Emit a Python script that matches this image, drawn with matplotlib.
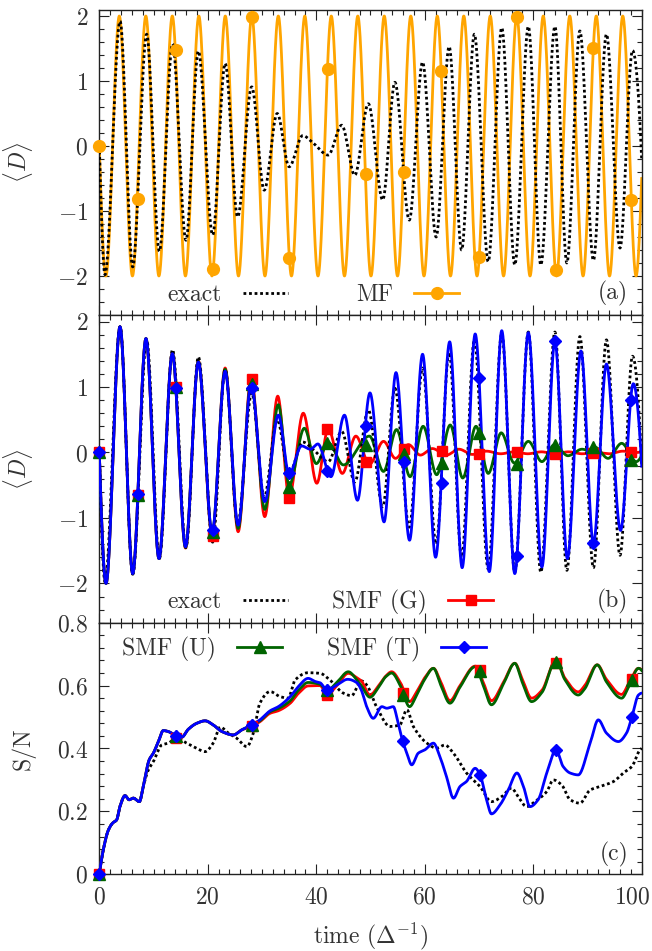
import numpy as np
import matplotlib
matplotlib.use("Agg")
import matplotlib.pyplot as plt
import matplotlib.transforms as mtransforms
from matplotlib.ticker import MultipleLocator, FuncFormatter
from matplotlib.lines import Line2D

plt.rcParams.update({
    "font.family": "cmr10",
    "mathtext.fontset": "cm",
    "axes.formatter.use_mathtext": True,
    "font.size": 17,
    "text.color": "#333333",
})

# ---------------- data ----------------
# panel (a): mean-field curve, extrema (time, value)
MF_t = [0, 1.22, 3.69, 6.11, 8.58, 10.99, 13.46, 15.88, 18.35, 20.77, 23.23, 25.66,
        28.12, 30.54, 33.00, 35.43, 37.89, 40.32, 42.77, 45.20, 47.66, 50.09, 52.54,
        54.98, 57.43, 59.86, 62.31, 64.75, 67.20, 69.64, 72.08, 74.53, 76.97, 79.41,
        81.85, 84.30, 86.74, 89.19, 91.62, 94.07, 96.51, 98.96, 100]
MF_v = [0, -2, 2, -2, 2, -2, 2, -2, 2, -2, 2, -2, 2, -2, 2, -2, 2, -2, 2, -2, 2, -2,
        2, -2, 2, -2, 2, -2, 2, -2, 2, -2, 2, -2, 2, -2, 2, -2, 2, -2, 2, -2, -0.5]
MF_mk_t = [0, 7.19, 14.14, 21.0, 28.15, 35.03, 42.2, 49.1, 56.2, 63.05, 70.0, 77.07, 84.2, 91.07, 98.0]
MF_mk_v = [0, -0.82, 1.48, -1.89, 1.99, -1.72, 1.18, -0.43, -0.40, 1.16, -1.71, 1.98, -1.91, 1.51, -0.83]

# exact dynamics <D>, extrema (panels a and b)
EX_t = [0, 1.05, 3.83, 6.16, 8.73, 11.07, 13.5, 15.98, 18.26, 20.9, 23.2, 25.5, 28.1,
        30.4, 32.8, 35.0, 37.5, 39.5, 42.2, 44.7, 47.1, 49.6, 52.25, 54.5, 57.15, 59.6,
        62.1, 64.5, 66.8, 69.15, 71.7, 74.2, 76.6, 79.1, 81.4, 84.0, 86.2, 88.6, 91.1,
        93.5, 96.0, 98.3, 100]
EX_v = [0, -1.98, 1.92, -1.86, 1.72, -1.62, 1.57, -1.45, 1.46, -1.37, 1.27, -1.09, 0.91,
        -0.68, 0.50, -0.32, 0.16, 0.04, -0.14, 0.32, -0.45, 0.65, -0.83, 0.98, -1.14, 1.29,
        -1.40, 1.53, -1.60, 1.72, -1.78, 1.82, -1.83, 1.84, -1.83, 1.84, -1.80, 1.77, -1.76,
        1.72, -1.57, 1.47, -0.22]

# panel (b): SMF curves, extrema
T_t = [0, 1.24, 3.82, 6.16, 8.6, 11.0, 13.47, 15.9, 18.26, 20.8, 23.2, 25.6, 28.0, 30.5,
       33.0, 35.0, 37.3, 38.9, 40.3, 42.7, 45.2, 47.6, 49.9, 52.5, 54.7, 57.2, 59.6, 62.0,
       64.6, 66.9, 69.3, 71.9, 74.2, 76.6, 79.1, 81.6, 84.0, 86.3, 88.8, 91.1, 93.5, 96.1,
       98.45, 100]
T_v = [0, -2.0, 1.92, -1.85, 1.74, -1.62, 1.51, -1.44, 1.38, -1.22, 1.24, -1.11, 1.04, -0.75,
       0.57, -0.33, 0.10, 0.05, 0.13, -0.37, 0.57, -0.73, 0.91, -1.06, 1.22, -1.34, 1.50, -1.60,
       1.69, -1.76, 1.81, -1.82, 1.86, -1.85, 1.83, -1.75, 1.70, -1.62, 1.55, -1.39, 1.35, -1.19,
       1.05, -0.21]
G_t = [0, 1.24, 3.82, 6.16, 8.6, 11.0, 13.47, 15.9, 18.26, 20.8, 23.2, 25.6, 28.0, 30.5,
       32.9, 35.0, 37.6, 40.1, 42.2, 44.8, 47.3, 49.8, 52.4, 54.6, 57.0, 59.2, 61.4, 64.0,
       66.3, 68.8, 71.4, 74.0, 76.5, 79.0, 81.5, 84.0, 86.5, 89.0, 91.5, 94.0, 96.5, 99.0, 100]
G_v = [0, -2.0, 1.92, -1.85, 1.74, -1.62, 1.52, -1.46, 1.40, -1.27, 1.29, -1.21, 1.15, -0.98,
       0.86, -0.68, 0.60, -0.47, 0.36, -0.32, 0.25, -0.18, 0.17, -0.09, 0.12, -0.04, 0.06, -0.04,
       0.05, -0.03, 0.02, -0.02, 0.01, -0.02, 0.01, -0.02, 0.01, -0.02, 0.0, -0.02, 0.02, 0.0, 0.01]
U_t = [0, 1.24, 3.82, 6.16, 8.6, 11.0, 13.47, 15.9, 18.26, 20.8, 23.2, 25.6, 28.0, 30.5,
       33.0, 35.0, 37.8, 40.0, 42.2, 45.0, 49.8, 52.4, 54.8, 57.3, 59.7, 62.2, 64.7, 67.0,
       69.45, 71.7, 74.1, 76.5, 79.1, 81.6, 83.9, 86.4, 89.0, 90.3, 91.4, 93.8, 96.3, 99.0, 100]
U_v = [0, -2.0, 1.92, -1.85, 1.74, -1.62, 1.51, -1.45, 1.39, -1.23, 1.27, -1.16, 1.08, -0.87,
       0.73, -0.50, 0.37, -0.17, 0.15, -0.19, 0.25, -0.29, 0.35, -0.37, 0.40, -0.34, 0.42, -0.39,
       0.40, -0.32, 0.30, -0.16, 0.17, -0.14, 0.12, -0.05, 0.05, 0.03, 0.08, -0.09, 0.14, -0.14, -0.05]

MK_b_t = [0, 7.19, 14.14, 21.0, 28.1, 34.9, 42.0, 49.1, 56.1, 63.1, 70.06, 77.1, 84.0, 91.1, 98.0]
T_mk_b = [0, -0.64, 0.98, -1.19, 0.98, -0.32, -0.28, 0.41, -0.15, -0.47, 1.14, -1.58, 1.70, -1.39, 0.80]
G_mk_b = [0, -0.65, 1.00, -1.27, 1.12, -0.70, 0.36, -0.15, 0.06, 0.03, -0.03, 0.00, -0.02, -0.01, 0.01]
U_mk_b = [0, -0.65, 1.00, -1.22, 1.05, -0.52, 0.14, 0.12, -0.02, -0.16, 0.30, -0.17, 0.11, 0.09, -0.11]

# panel (c): S/N
SN_early_t = [0, 0.74, 1.66, 2.47, 3.2, 3.8, 4.74, 5.5, 6.27, 7.4, 8.1]
SN_early_v = [0, 0.078, 0.14, 0.163, 0.173, 0.215, 0.25, 0.237, 0.242, 0.231, 0.279]
SN_mid_t = [9.2, 9.96, 10.9, 11.8, 12.7, 14.1, 15.2, 16.4, 17.95, 19.5, 21.0, 22.6, 24.7, 26.25]
SN_mid_v = [0.364, 0.385, 0.422, 0.457, 0.454, 0.441, 0.436, 0.461, 0.48, 0.488, 0.475, 0.454,
            0.443, 0.459]
SN_T_t = [28.1, 29.6, 31.5, 33.0, 35.2, 36.7, 38.5, 39.8, 40.7, 42.0, 43.8, 45.8, 47.5, 48.3,
          49.3, 50.5, 52.1, 53.0, 54.2, 55.1, 55.9, 56.7, 57.6, 58.8, 60.05, 61.6, 62.8, 64.0,
          65.3, 66.5, 67.7, 69.3, 70.2, 71.4, 72.3, 73.9, 75.4, 77.0, 78.2, 79.4, 80.9, 82.5,
          84.2, 85.5, 86.8, 88.3, 90.5, 92.0, 93.5, 95.7, 97.2, 98.2, 99.4, 100]
SN_T_v = [0.475, 0.491, 0.520, 0.533, 0.565, 0.597, 0.623, 0.613, 0.609, 0.586, 0.602, 0.620,
          0.609, 0.586, 0.533, 0.496, 0.533, 0.528, 0.533, 0.480, 0.425, 0.385, 0.348, 0.385,
          0.396, 0.417, 0.374, 0.311, 0.242, 0.279, 0.295, 0.337, 0.316, 0.237, 0.192, 0.221,
          0.268, 0.322, 0.279, 0.215, 0.237, 0.322, 0.396, 0.343, 0.322, 0.316, 0.417, 0.491,
          0.449, 0.422, 0.449, 0.501, 0.570, 0.576]
SN_G_t = [28.1, 29.6, 31.5, 33.0, 35.2, 36.7, 38.5, 40.7, 42.0, 43.8, 45.9, 47.5, 48.3, 49.9,
          51.5, 52.8, 53.9, 55.5, 57.2, 58.5, 60.0, 61.6, 63.0, 64.65, 66.5, 69.3, 70.8, 72.3,
          74.5, 76.6, 78.0, 79.7, 81.6, 84.2, 85.8, 88.3, 89.5, 91.8, 93.5, 96.3, 97.7, 99.4, 100]
SN_G_v = [0.470, 0.485, 0.512, 0.520, 0.544, 0.575, 0.599, 0.600, 0.572, 0.600, 0.639, 0.625,
          0.615, 0.570, 0.600, 0.630, 0.644, 0.610, 0.549, 0.580, 0.625, 0.655, 0.610, 0.552,
          0.600, 0.662, 0.610, 0.552, 0.610, 0.671, 0.620, 0.560, 0.585, 0.681, 0.625, 0.580,
          0.600, 0.666, 0.620, 0.572, 0.610, 0.655, 0.650]
SN_U_t = SN_G_t
SN_U_v = [0.475, 0.488, 0.517, 0.527, 0.552, 0.585, 0.610, 0.604, 0.585, 0.610, 0.644, 0.618,
          0.600, 0.563, 0.595, 0.628, 0.640, 0.600, 0.533, 0.570, 0.620, 0.655, 0.600, 0.544,
          0.595, 0.660, 0.600, 0.539, 0.605, 0.671, 0.610, 0.549, 0.578, 0.681, 0.620, 0.570,
          0.590, 0.666, 0.612, 0.560, 0.600, 0.655, 0.648]
SN_EX_t = [9.0, 9.96, 11.5, 12.7, 14.3, 16.1, 17.6, 19.5, 21.0, 22.3, 23.8, 25.3, 27.2, 28.4,
           29.6, 31.5, 33.3, 34.8, 36.1, 38.5, 40.7, 42.5, 45.0, 46.5, 48.3, 49.3, 51.1, 53.6,
           55.4, 56.7, 57.9, 60.4, 62.2, 63.7, 65.3, 67.7, 70.2, 72.3, 74.2, 76.0, 77.2, 78.8,
           80.3, 82.5, 83.7, 85.25, 86.8, 88.6, 90.5, 92.3, 94.8, 96.6, 98.2, 99.7, 100]
SN_EX_v = [0.33, 0.358, 0.411, 0.417, 0.433, 0.417, 0.404, 0.390, 0.417, 0.468, 0.449, 0.433,
           0.406, 0.449, 0.544, 0.581, 0.565, 0.560, 0.618, 0.641, 0.639, 0.618, 0.576, 0.568,
           0.615, 0.602, 0.533, 0.470, 0.475, 0.523, 0.470, 0.417, 0.401, 0.411, 0.385, 0.322,
           0.279, 0.231, 0.247, 0.274, 0.247, 0.215, 0.231, 0.263, 0.300, 0.284, 0.237, 0.226,
           0.268, 0.279, 0.295, 0.322, 0.343, 0.396, 0.40]
MK_c_t = [0, 14.14, 28.1, 42.0, 55.9, 70.2, 84.2, 98.2]
T_mk_c = [0, 0.441, 0.475, 0.586, 0.425, 0.316, 0.396, 0.501]
G_mk_c = [0, 0.433, 0.470, 0.570, 0.576, 0.650, 0.671, 0.620]
U_mk_c = [0, 0.440, 0.475, 0.585, 0.570, 0.645, 0.676, 0.618]

# ---------------- helpers ----------------
def pchip(x, y, xn):
    x = np.asarray(x, float); y = np.asarray(y, float)
    h = np.diff(x); d = np.diff(y) / h
    n = len(x); m = np.zeros(n)
    for k in range(1, n - 1):
        if d[k - 1] * d[k] > 0:
            w1 = 2 * h[k] + h[k - 1]; w2 = h[k] + 2 * h[k - 1]
            m[k] = (w1 + w2) / (w1 / d[k - 1] + w2 / d[k])
    def endslope(h0, h1, d0, d1):
        s = ((2 * h0 + h1) * d0 - h0 * d1) / (h0 + h1)
        if np.sign(s) != np.sign(d0):
            s = 0.0
        elif np.sign(d0) != np.sign(d1) and abs(s) > abs(3 * d0):
            s = 3 * d0
        return s
    m[0] = endslope(h[0], h[1], d[0], d[1])
    m[-1] = endslope(h[-1], h[-2], d[-1], d[-2])
    idx = np.clip(np.searchsorted(x, xn) - 1, 0, n - 2)
    hk = h[idx]; s = (xn - x[idx]) / hk
    h00 = 2 * s**3 - 3 * s**2 + 1; h10 = s**3 - 2 * s**2 + s
    h01 = -2 * s**3 + 3 * s**2; h11 = s**3 - s**2
    return h00 * y[idx] + h10 * hk * m[idx] + h01 * y[idx + 1] + h11 * hk * m[idx + 1]

tt = np.linspace(0, 100, 5001)
TXT = "#333333"
ORANGE = "#FFA500"; RED = "#FF0000"; GREEN = "#006400"; BLUE = "#0000FF"
DOT = (0, (1, 1))
YLAB_X = -0.118

fig = plt.figure(figsize=(6.52, 9.51), dpi=100)
L, W = 0.1523, 0.8319
axA = fig.add_axes([L, 0.6688, W, 0.3212])
axB = fig.add_axes([L, 0.3452, W, 0.3236])
axC = fig.add_axes([L, 0.0807, W, 0.2645])

def style(ax, ymaj, ymin, fmt):
    ax.set_xlim(0, 100)
    ax.xaxis.set_major_locator(MultipleLocator(20))
    ax.xaxis.set_minor_locator(MultipleLocator(2))
    ax.yaxis.set_major_locator(MultipleLocator(ymaj))
    ax.yaxis.set_minor_locator(MultipleLocator(ymin))
    ax.yaxis.set_major_formatter(FuncFormatter(fmt))
    ax.xaxis.set_major_formatter(FuncFormatter(lambda v, p: r"$%d$" % round(v)))
    ax.tick_params(which="both", direction="in", top=True, right=True, colors="#222222",
                   labelcolor=TXT, labelsize=17, width=0.8)
    ax.tick_params(which="major", length=7)
    ax.tick_params(which="minor", length=3.5)
    ax.tick_params(axis="x", pad=9)
    ax.tick_params(axis="y", pad=8)
    for sp in ax.spines.values():
        sp.set_linewidth(1.0); sp.set_color("#222222")

fmt_int = lambda v, p: (r"$%d$" % round(v)) if abs(v - round(v)) < 1e-6 else ""
fmt_c = lambda v, p: r"$0$" if abs(v) < 1e-9 else r"$%.1f$" % v

# ----- panel (a)
style(axA, 1, 0.2, fmt_int)
axA.set_ylim(-2.6, 2.1)
axA.plot(tt, pchip(MF_t, MF_v, tt), color=ORANGE, lw=2.0, zorder=2)
axA.plot(tt, pchip(EX_t, EX_v, tt), color="black", lw=2.0, ls=DOT, zorder=3)
axA.plot(MF_mk_t, MF_mk_v, ls="none", marker="o", ms=8.5, color=ORANGE, zorder=4, clip_on=False)
axA.tick_params(labelbottom=False)
axA.set_ylabel(r"$\langle D\rangle$", color=TXT)
axA.yaxis.set_label_coords(YLAB_X, 0.5)
hA = [Line2D([], [], color="black", lw=2.0, ls=DOT),
      Line2D([], [], color=ORANGE, lw=2.0, marker="o", ms=8.5)]
axA.legend(hA, ["exact", "MF"], ncol=2, markerfirst=False, frameon=False, loc="center left",
           bbox_to_anchor=(0.125, 0.066), borderpad=0, borderaxespad=0, handlelength=1.9,
           handletextpad=0.9, columnspacing=2.9, fontsize=17, labelcolor=TXT, numpoints=1)
axA.text(0.975, 0.069, "(a)", transform=axA.transAxes, ha="right", va="center", color=TXT)

# ----- panel (b)
style(axB, 1, 0.2, fmt_int)
axB.set_ylim(-2.6, 2.1)
axB.plot(tt, pchip(G_t, G_v, tt), color=RED, lw=2.0, zorder=2)
axB.plot(tt, pchip(U_t, U_v, tt), color=GREEN, lw=2.0, zorder=3)
axB.plot(tt, pchip(EX_t, EX_v, tt), color="black", lw=2.0, ls=DOT, zorder=4)
axB.plot(tt, pchip(T_t, T_v, tt), color=BLUE, lw=2.0, zorder=5)
axB.plot(MK_b_t, G_mk_b, ls="none", marker="s", ms=7, color=RED, zorder=6, clip_on=False)
axB.plot(MK_b_t, U_mk_b, ls="none", marker="^", ms=8, color=GREEN, zorder=7, clip_on=False)
axB.plot(MK_b_t, T_mk_b, ls="none", marker="D", ms=6.5, color=BLUE, zorder=8, clip_on=False)
axB.tick_params(labelbottom=False)
axB.set_ylabel(r"$\langle D\rangle$", color=TXT)
axB.yaxis.set_label_coords(YLAB_X, 0.5)
hB = [Line2D([], [], color="black", lw=2.0, ls=DOT),
      Line2D([], [], color=RED, lw=2.0, marker="s", ms=7)]
axB.legend(hB, ["exact", "SMF (G)"], ncol=2, markerfirst=False, frameon=False, loc="center left",
           bbox_to_anchor=(0.125, 0.067), borderpad=0, borderaxespad=0, handlelength=1.9,
           handletextpad=0.9, columnspacing=1.9, fontsize=17, labelcolor=TXT, numpoints=1)
axB.text(0.975, 0.068, "(b)", transform=axB.transAxes, ha="right", va="center", color=TXT)

# ----- panel (c)
style(axC, 0.2, 0.04, fmt_c)
axC.set_ylim(0, 0.8)
cT_t = SN_early_t + SN_mid_t + SN_T_t; cT_v = SN_early_v + SN_mid_v + SN_T_v
cG_t = SN_early_t + SN_mid_t + SN_G_t; cG_v = SN_early_v + SN_mid_v + SN_G_v
cU_t = SN_early_t + SN_mid_t + SN_U_t; cU_v = SN_early_v + SN_mid_v + SN_U_v
cE_t = SN_early_t + SN_EX_t; cE_v = SN_early_v + SN_EX_v
axC.plot(tt, pchip(cE_t, cE_v, tt), color="black", lw=2.0, ls=DOT, zorder=2)
axC.plot(tt, pchip(cG_t, cG_v, tt), color=RED, lw=2.0, zorder=3)
axC.plot(tt, pchip(cU_t, cU_v, tt), color=GREEN, lw=2.0, zorder=4)
axC.plot(tt, pchip(cT_t, cT_v, tt), color=BLUE, lw=2.0, zorder=5)
axC.plot(MK_c_t, G_mk_c, ls="none", marker="s", ms=7, color=RED, zorder=6, clip_on=False)
axC.plot(MK_c_t, U_mk_c, ls="none", marker="^", ms=8, color=GREEN, zorder=7, clip_on=False)
axC.plot(MK_c_t, T_mk_c, ls="none", marker="D", ms=6.5, color=BLUE, zorder=8, clip_on=False)
axC.set_ylabel("S/N", color=TXT)
axC.yaxis.set_label_coords(YLAB_X, 0.5)
axC.set_xlabel(r"time ($\Delta^{-1}$)", color=TXT)
axC.xaxis.set_label_coords(0.5, -0.185)
hC = [Line2D([], [], color=GREEN, lw=2.0, marker="^", ms=8),
      Line2D([], [], color=BLUE, lw=2.0, marker="D", ms=6.5)]
axC.legend(hC, ["SMF (U)", "SMF (T)"], ncol=2, markerfirst=False, frameon=False, loc="center left",
           bbox_to_anchor=(0.042, 0.895), borderpad=0, borderaxespad=0, handlelength=1.9,
           handletextpad=0.9, columnspacing=1.9, fontsize=17, labelcolor=TXT, numpoints=1)
axC.text(0.975, 0.077, "(c)", transform=axC.transAxes, ha="right", va="center", color=TXT)

# keep the last x tick label ("100") inside the figure, as in the reference
fig.canvas.draw()
for lab in axC.get_xticklabels():
    if lab.get_text() and "100" in lab.get_text():
        lab.set_transform(lab.get_transform() +
                          mtransforms.ScaledTranslation(-9 / 100, 0, fig.dpi_scale_trans))

fig.savefig("out.png", dpi=100)
